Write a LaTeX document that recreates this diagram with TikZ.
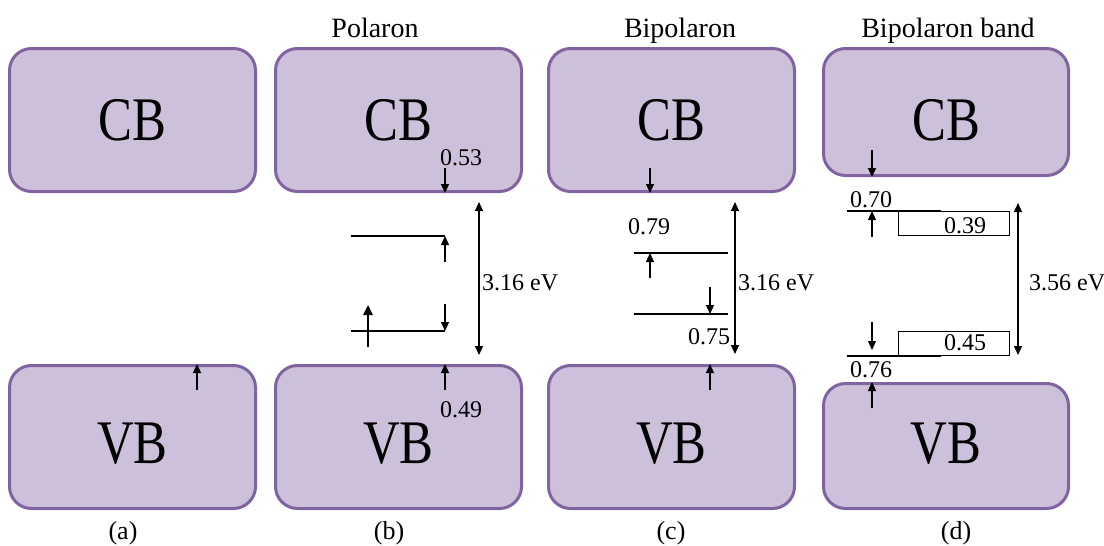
\documentclass[tikz,border=0pt]{standalone}
\usepackage{fontspec}
\usepackage{graphicx}
\setmainfont{Liberation Serif}
\usetikzlibrary{arrows.meta}
\definecolor{bandfill}{HTML}{CCC0DA}
\definecolor{bandline}{HTML}{8064A2}
\begin{document}
\begin{tikzpicture}[x=1pt,y=-1pt,
  band/.style={draw=bandline, fill=bandfill, line width=3pt, rounded corners=22pt, inner sep=0pt},
  bandtxt/.style={font=\fontsize{62}{62}\selectfont, inner sep=0pt},
  num/.style={font=\fontsize{24}{26}\selectfont, inner sep=0pt},
  ttl/.style={font=\fontsize{28}{30}\selectfont, inner sep=0pt, anchor=base},
  lab/.style={font=\fontsize{26}{28}\selectfont, inner sep=0pt, anchor=base},
  arr/.style={line width=1.2pt, -{Triangle[length=9pt,width=8pt]}},
  spin/.style={line width=2.4pt, -{Triangle[length=10pt,width=9pt]}},
  darr/.style={line width=1.2pt, {Triangle[length=9pt,width=8pt]}-{Triangle[length=9pt,width=8pt]}},
  lvl/.style={line width=2pt},
  bandbox/.style={draw, line width=1pt, inner sep=0pt},
]
\useasboundingbox (0,0) rectangle (1104,546);

% ---------- bands ----------
\node[band, minimum width=246pt, minimum height=143pt] (cbA) at (132.5,120) {};
\node[band, minimum width=246pt, minimum height=143pt] (vbA) at (132.5,437) {};
\node[band, minimum width=246pt, minimum height=143pt] (cbB) at (398.5,120) {};
\node[band, minimum width=246pt, minimum height=143pt] (vbB) at (398.5,437) {};
\node[band, minimum width=246pt, minimum height=143pt] (cbC) at (671.5,120) {};
\node[band, minimum width=246pt, minimum height=143pt] (vbC) at (671.5,437) {};
\node[band, minimum width=245pt, minimum height=127pt] (cbD) at (946,112) {};
\node[band, minimum width=245pt, minimum height=125pt] (vbD) at (946,446) {};

\node[bandtxt] (tcbA) at (132.5,120) {\scalebox{0.82}[1]{CB}};
\node[bandtxt] (tvbA) at (132.5,444) {\scalebox{0.82}[1]{VB}};
\node[bandtxt] (tcbB) at (398.5,120) {\scalebox{0.82}[1]{CB}};
\node[bandtxt] (tvbB) at (398.5,444) {\scalebox{0.82}[1]{VB}};
\node[bandtxt] (tcbC) at (671.5,120) {\scalebox{0.82}[1]{CB}};
\node[bandtxt] (tvbC) at (671.5,444) {\scalebox{0.82}[1]{VB}};
\node[bandtxt] (tcbD) at (946,120) {\scalebox{0.82}[1]{CB}};
\node[bandtxt] (tvbD) at (946,444) {\scalebox{0.82}[1]{VB}};

% ---------- titles and labels ----------
\node[ttl] (t1) at (375,37) {Polaron};
\node[ttl] (t2) at (680,37) {Bipolaron};
\node[ttl] (t3) at (948,37) {Bipolaron band};
\node[lab] (la) at (123,539) {(a)};
\node[lab] (lb) at (389,539) {(b)};
\node[lab] (lc) at (671,539) {(c)};
\node[lab] (ld) at (956,539) {(d)};

% ---------- (a) ----------
\coordinate (a1) at (197,390);
\draw[arr] (a1) -- (a1 |- vbA.north);

% ---------- (b) ----------
\coordinate (b0) at (445,168);
\draw[arr] (b0) -- (b0 |- cbB.south);
\node[num] (n053) at (461,158) {0.53};
\coordinate (b1) at (351,236);
\coordinate (b2) at (445,236);
\draw[lvl] (b1) -- (b2);
\coordinate (b3) at (445,262);
\draw[arr] (b3) -- (b2);
\coordinate (b4) at (351,331);
\coordinate (b5) at (445,331);
\draw[lvl] (b4) -- (b5);
\coordinate (b6) at (445,304);
\draw[arr] (b6) -- (b5);
\coordinate (s1) at (368,347);
\coordinate (s2) at (368,305);
\draw[spin] (s1) -- (s2);
\coordinate (bd1) at (479,202);
\coordinate (bd2) at (479,355);
\draw[darr] (bd1) -- (bd2);
\node[num, anchor=west] (gb) at (482,283) {3.16 eV};
\coordinate (b7) at (445,390);
\draw[arr] (b7) -- (b7 |- vbB.north);
\node[num] (n049) at (461,410) {0.49};

% ---------- (c) ----------
\coordinate (c0) at (650,168);
\draw[arr] (c0) -- (c0 |- cbC.south);
\node[num] (n079) at (649,227) {0.79};
\coordinate (c1) at (634,253);
\coordinate (c2) at (728,253);
\draw[lvl] (c1) -- (c2);
\coordinate (c3) at (650,278);
\draw[arr] (c3) -- (c3 |- c1);
\coordinate (c4) at (634,314);
\coordinate (c5) at (728,314);
\draw[lvl] (c4) -- (c5);
\coordinate (c6) at (710,287);
\draw[arr] (c6) -- (c6 |- c4);
\node[num] (n075) at (709,337) {0.75};
\coordinate (cd1) at (735,202);
\coordinate (cd2) at (735,354);
\draw[darr] (cd1) -- (cd2);
\node[num, anchor=west] (gc) at (738,283) {3.16 eV};
\coordinate (c7) at (710,390);
\draw[arr] (c7) -- (c7 |- vbC.north);

% ---------- (d) ----------
\coordinate (d0) at (872,150);
\draw[arr] (d0) -- (d0 |- cbD.south);
\node[num] (n070) at (871,200) {0.70};
\node[bandbox, minimum width=111pt, minimum height=24pt] (r1) at (954,223.5) {};
\node[num] (n039) at (965,226) {0.39};
\coordinate (d1) at (847,211);
\coordinate (d2) at (941,211);
\draw[lvl] (d1) -- (d2);
\coordinate (d3) at (872,237);
\draw[arr] (d3) -- (d3 |- d1);
\node[bandbox, minimum width=111pt, minimum height=24pt] (r2) at (954,343.5) {};
\node[num] (n045) at (965,343) {0.45};
\coordinate (d4) at (847,356);
\coordinate (d5) at (941,356);
\draw[lvl] (d4) -- (d5);
\coordinate (d6) at (872,322);
\coordinate (d6e) at (872,350);
\draw[arr] (d6) -- (d6e);
\node[num] (n076) at (871,370) {0.76};
\coordinate (d7) at (872,408);
\draw[arr] (d7) -- (d7 |- vbD.north);
\coordinate (dd1) at (1018,203);
\coordinate (dd2) at (1018,355);
\draw[darr] (dd1) -- (dd2);
\node[num, anchor=west] (gd) at (1029,283) {3.56 eV};
\end{tikzpicture}
\end{document}
